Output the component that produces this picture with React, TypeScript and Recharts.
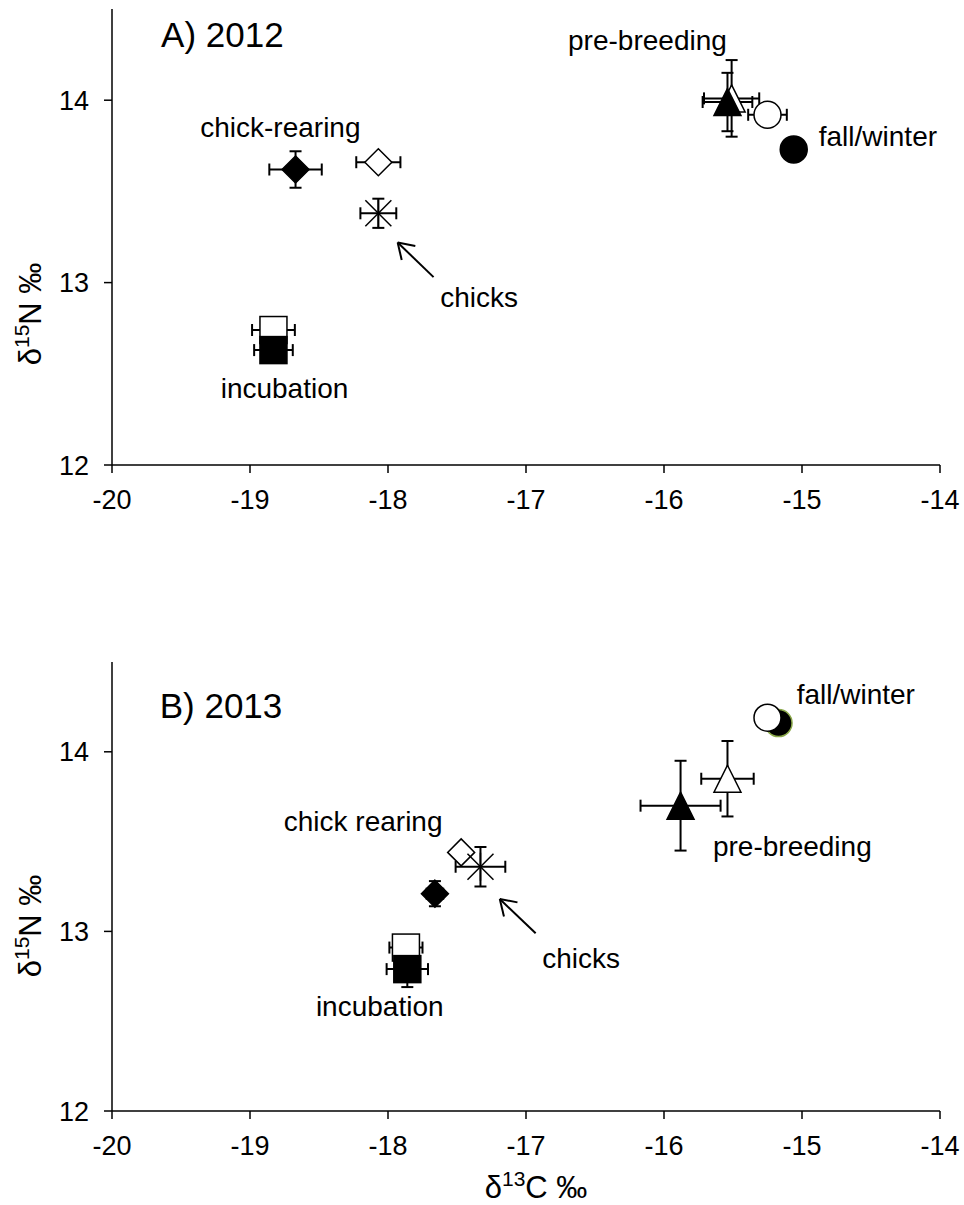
import React from 'react';
import { ScatterChart, Scatter, XAxis, YAxis, ErrorBar, ReferenceDot, ReferenceLine } from 'recharts';

const FONT = '"Liberation Sans", Arial, sans-serif';

// series order: incubation open/filled, chick-rearing open/filled, chicks, pre-breeding open/filled, fall/winter open/filled
const pointKeys = ['incOpen', 'incFilled', 'crOpen', 'crFilled', 'chicks', 'pbOpen', 'pbFilled', 'fwOpen', 'fwFilled'];

// A) 2012
const xA = [-18.83, -18.83, -18.07, -18.67, -18.07, -15.51, -15.54, -15.25, -15.06];
const yA = [12.74, 12.63, 13.66, 13.62, 13.38, 14.01, 13.99, 13.92, 13.73];
const exA = [0.155, 0.14, 0.16, 0.19, 0.13, 0.2, 0.18, 0.14, 0];
const eyA = [0.07, 0.05, 0, 0.1, 0.08, 0.21, 0.16, 0, 0];
const orderA = [0, 1, 2, 3, 4, 5, 6, 7, 8];

// B) 2013
const xB = [-17.87, -17.86, -17.47, -17.66, -17.33, -15.54, -15.88, -15.25, -15.17];
const yB = [12.91, 12.79, 13.44, 13.21, 13.36, 13.85, 13.7, 14.19, 14.16];
const exB = [0.12, 0.15, 0.05, 0.06, 0.18, 0.19, 0.29, 0, 0];
const eyB = [0.03, 0.1, 0.03, 0.07, 0.11, 0.21, 0.25, 0, 0];
const orderB = [0, 1, 2, 3, 4, 5, 6, 8, 7];

const xTicks = [-20, -19, -18, -17, -16, -15, -14];
const yTicks = [12, 13, 14];

// annotations (text, x, y)
const notesA = ['A) 2012', 'chick-rearing', 'incubation', 'chicks', 'pre-breeding', 'fall/winter'];
const noteXA = [-19.2, -18.78, -18.75, -17.34, -16.12, -14.45];
const noteYA = [14.36, 13.85, 12.42, 12.92, 14.33, 13.8];
const arrowA = [[-17.67, 13.03], [-17.93, 13.22]];

const notesB = ['B) 2013', 'chick rearing', 'incubation', 'chicks', 'fall/winter', 'pre-breeding'];
const noteXB = [-19.21, -18.18, -18.06, -16.6, -14.61, -15.07];
const noteYB = [14.26, 13.61, 12.58, 12.85, 14.32, 13.47];
const arrowB = [[-16.93, 12.99], [-17.19, 13.18]];

const kinds: Record<string, { kind: string; filled: boolean }> = {
  incOpen: { kind: 'square', filled: false },
  incFilled: { kind: 'square', filled: true },
  crOpen: { kind: 'diamond', filled: false },
  crFilled: { kind: 'diamond', filled: true },
  chicks: { kind: 'asterisk', filled: false },
  pbOpen: { kind: 'triangle', filled: false },
  pbFilled: { kind: 'triangle', filled: true },
  fwOpen: { kind: 'circle', filled: false },
  fwFilled: { kind: 'circle', filled: true },
};

const Marker = ({ cx, cy, kind, filled, edge }: any) => {
  const fill = filled ? '#000' : '#fff';
  const stroke = edge || '#000';
  const s = 13.5;
  if (kind === 'circle') return <circle cx={cx} cy={cy} r={s} fill={fill} stroke={stroke} strokeWidth={1.5} />;
  if (kind === 'square')
    return <rect x={cx - s} y={cy - s} width={2 * s} height={2 * s} fill={fill} stroke={stroke} strokeWidth={1.5} />;
  if (kind === 'diamond')
    return (
      <polygon
        points={`${cx},${cy - s} ${cx + s},${cy} ${cx},${cy + s} ${cx - s},${cy}`}
        fill={fill}
        stroke={stroke}
        strokeWidth={1.5}
      />
    );
  if (kind === 'triangle')
    return (
      <polygon
        points={`${cx},${cy - s} ${cx + s},${cy + s} ${cx - s},${cy + s}`}
        fill={fill}
        stroke={stroke}
        strokeWidth={1.5}
      />
    );
  return (
    <g stroke="#000" strokeWidth={1.5}>
      <line x1={cx} y1={cy - 14} x2={cx} y2={cy + 14} />
      <line x1={cx - 13} y1={cy - 13} x2={cx + 13} y2={cy + 13} />
      <line x1={cx - 13} y1={cy + 13} x2={cx + 13} y2={cy - 13} />
    </g>
  );
};

const Arrow = (p: any) => {
  const { x1, y1, x2, y2 } = p;
  const ang = Math.atan2(y1 - y2, x1 - x2);
  const len = 18;
  const a = (33 * Math.PI) / 180;
  return (
    <g stroke="#000" strokeWidth={2} fill="none">
      <line x1={x1} y1={y1} x2={x2} y2={y2} />
      <line x1={x2} y1={y2} x2={x2 + len * Math.cos(ang + a)} y2={y2 + len * Math.sin(ang + a)} />
      <line x1={x2} y1={y2} x2={x2 + len * Math.cos(ang - a)} y2={y2 + len * Math.sin(ang - a)} />
    </g>
  );
};

const tickStyle = { fill: '#000', fontSize: 27, fontFamily: FONT };
const axisStroke = { stroke: '#000', strokeWidth: 1.5 };

interface PanelProps {
  xs: number[];
  ys: number[];
  exs: number[];
  eys: number[];
  order: number[];
  notes: string[];
  noteX: number[];
  noteY: number[];
  arrow: number[][];
  height: number;
  top: number;
  marginTop: number;
  xAxisHeight: number;
  yTitleY: number;
  xTitle?: boolean;
  greenEdge?: boolean;
}

const Panel = ({ xs, ys, exs, eys, order, notes, noteX, noteY, arrow, height, top, marginTop, xAxisHeight, yTitleY, xTitle, greenEdge }: PanelProps) => (
  <div style={{ position: 'absolute', left: 0, top }}>
    <ScatterChart width={964} height={height} margin={{ top: marginTop, right: 24, left: 0, bottom: 0 }}>
      <XAxis
        type="number"
        dataKey="x"
        domain={[-20, -14]}
        ticks={xTicks}
        tick={tickStyle}
        tickSize={8}
        tickMargin={17}
        axisLine={axisStroke}
        tickLine={axisStroke}
        height={xAxisHeight}
        label={
          xTitle
            ? () => (
                <text x={536} y={598} textAnchor="middle" fontSize={31} fontFamily={FONT} fill="#000">
                  δ<tspan fontSize={21} dy={-12}>13</tspan>
                  <tspan dy={12}>C ‰</tspan>
                </text>
              )
            : undefined
        }
      />
      <YAxis
        type="number"
        dataKey="y"
        domain={[12, 14.5]}
        ticks={yTicks}
        tick={tickStyle}
        tickSize={8}
        tickMargin={15}
        axisLine={axisStroke}
        tickLine={axisStroke}
        width={112}
        label={() => (
          <text
            x={41}
            y={yTitleY}
            transform={`rotate(-90, 41, ${yTitleY})`}
            textAnchor="middle"
            fontSize={31}
            fontFamily={FONT}
            fill="#000"
          >
            δ<tspan fontSize={21} dy={-12}>15</tspan>
            <tspan dy={12}>N ‰</tspan>
          </text>
        )}
      />
      {order.map((i) => {
        const key = pointKeys[i];
        const k = kinds[key];
        const edge = greenEdge && key === 'fwFilled' ? '#8aa84a' : undefined;
        return (
          <Scatter
            key={key}
            name={key}
            data={[{ x: xs[i], y: ys[i], ex: exs[i], ey: eys[i] }]}
            isAnimationActive={false}
            shape={(p: any) => <Marker cx={p.cx} cy={p.cy} kind={k.kind} filled={k.filled} edge={edge} />}
          >
            {exs[i] > 0 && <ErrorBar dataKey="ex" direction="x" width={6} stroke="#000" strokeWidth={2} />}
            {eys[i] > 0 && <ErrorBar dataKey="ey" direction="y" width={6} stroke="#000" strokeWidth={2} />}
          </Scatter>
        );
      })}
      <ReferenceLine
        segment={[
          { x: arrow[0][0], y: arrow[0][1] },
          { x: arrow[1][0], y: arrow[1][1] },
        ]}
        shape={Arrow}
      />
      {notes.map((t, i) => (
        <ReferenceDot
          key={t + i}
          x={noteX[i]}
          y={noteY[i]}
          r={0}
          shape={(p: any) => (
            <text
              x={p.cx}
              y={p.cy}
              textAnchor="middle"
              dominantBaseline="central"
              fontSize={i === 0 ? 35 : 28}
              fontFamily={FONT}
              fill="#000"
            >
              {t}
            </text>
          )}
        />
      ))}
    </ScatterChart>
  </div>
);

export default function App() {
  return (
    <div style={{ position: 'absolute', left: 0, top: 0, width: 964, height: 1205, background: '#fff' }}>
      <Panel
        xs={xA}
        ys={yA}
        exs={exA}
        eys={eyA}
        order={orderA}
        notes={notesA}
        noteX={noteXA}
        noteY={noteYA}
        arrow={arrowA}
        height={540}
        top={0}
        marginTop={9}
        xAxisHeight={75}
        yTitleY={314}
      />
      <Panel
        xs={xB}
        ys={yB}
        exs={exB}
        eys={eyB}
        order={orderB}
        notes={notesB}
        noteX={noteXB}
        noteY={noteYB}
        arrow={arrowB}
        height={605}
        top={600}
        marginTop={62}
        xAxisHeight={94}
        yTitleY={326}
        xTitle
        greenEdge
      />
    </div>
  );
}
